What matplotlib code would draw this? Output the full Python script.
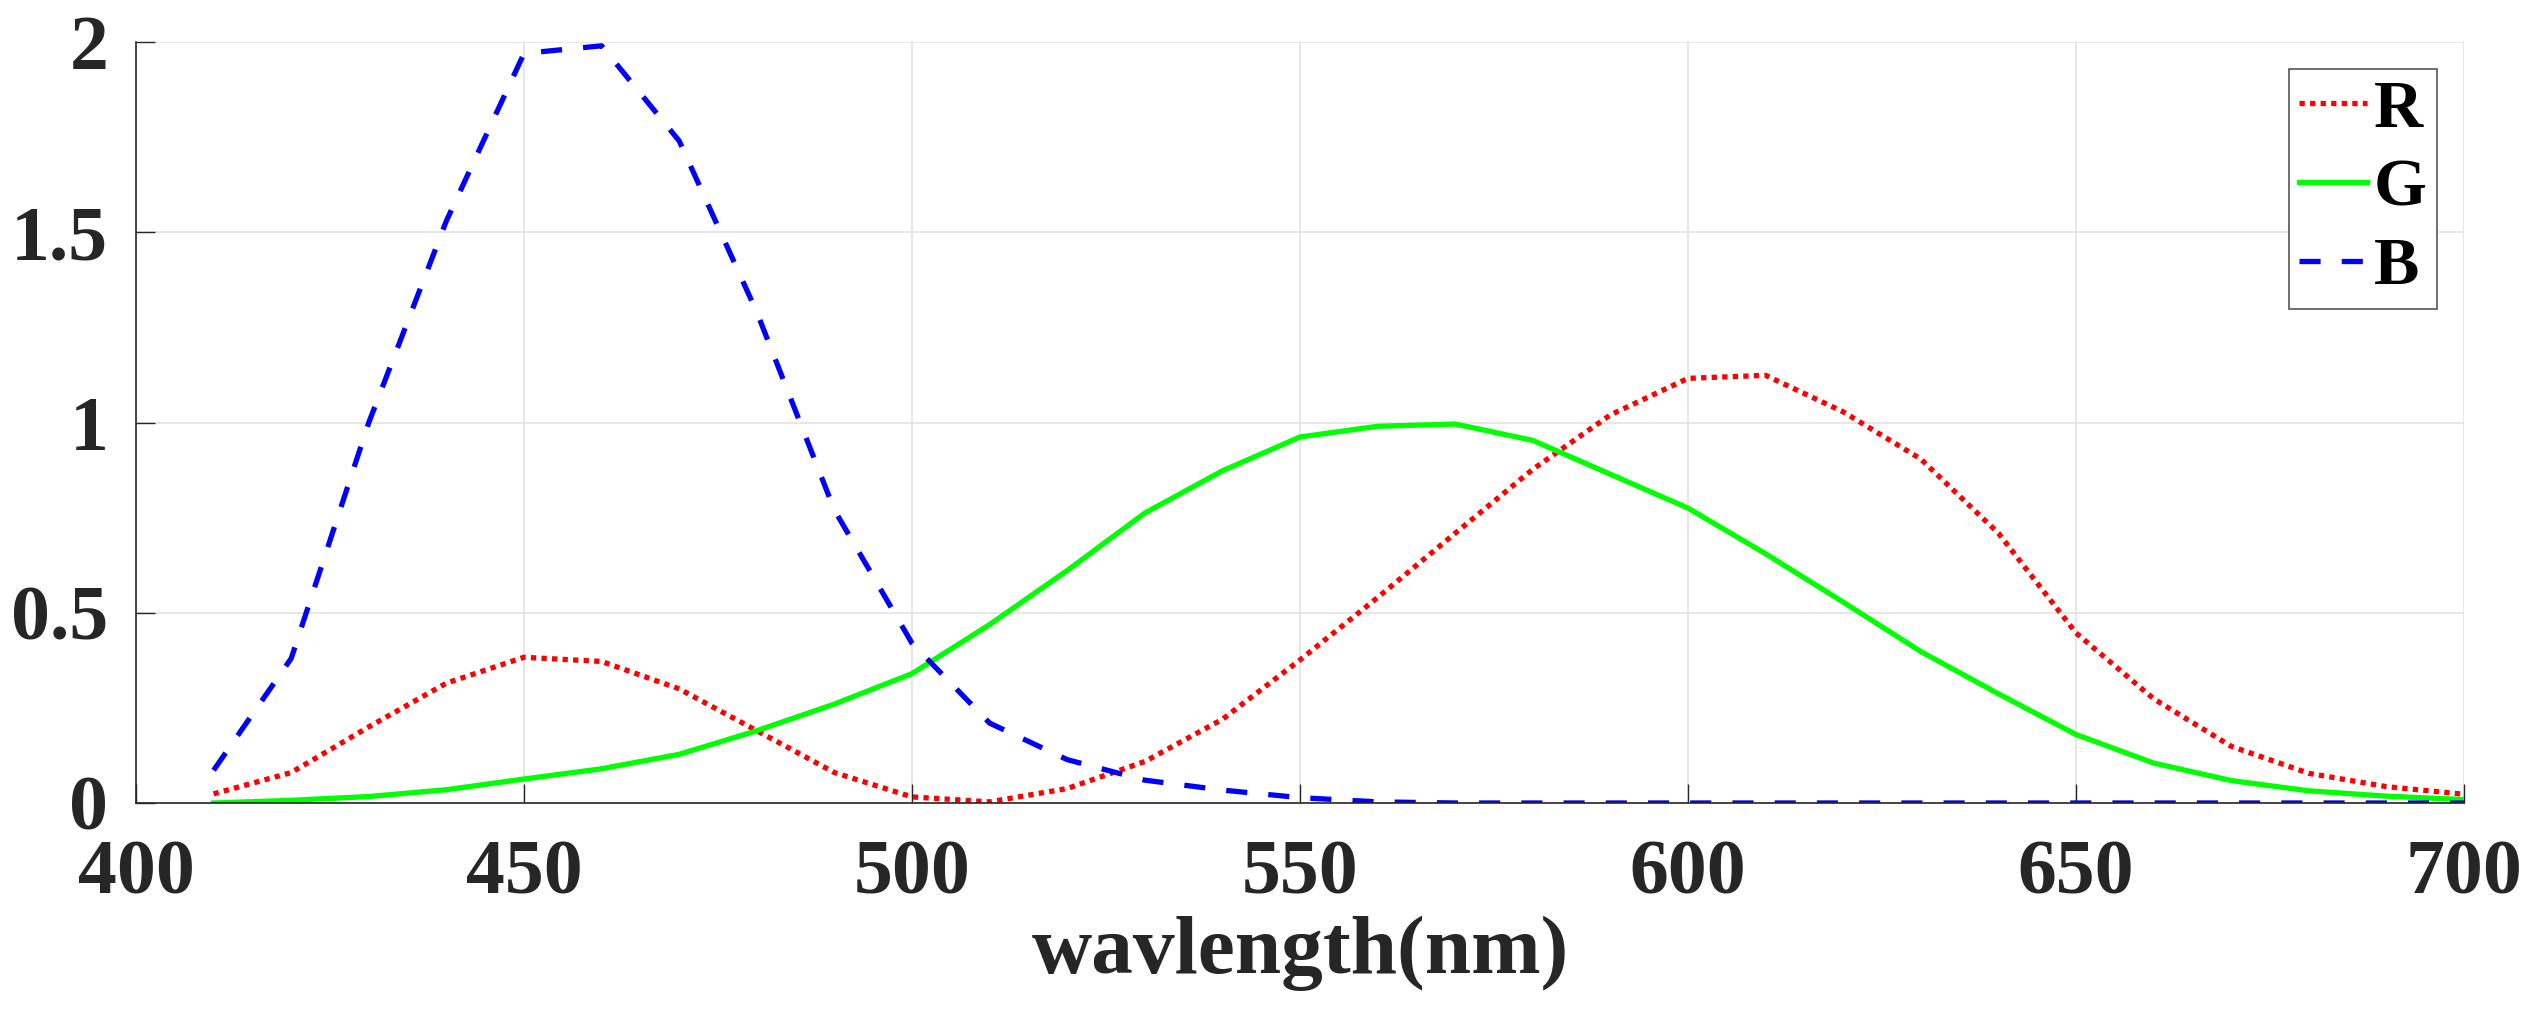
import matplotlib
matplotlib.use("Agg")
import matplotlib.pyplot as plt
import numpy as np

# spectral sensitivity, sampled every 10 nm
wavelength = list(range(410, 701, 10))
r_vals = [0.024, 0.08, 0.2, 0.315, 0.383, 0.372, 0.30, 0.19, 0.08, 0.016,
          0.003, 0.038, 0.109, 0.22, 0.376, 0.54, 0.709, 0.877, 1.02, 1.116,
          1.124, 1.028, 0.904, 0.709, 0.447, 0.274, 0.149, 0.078, 0.043, 0.023]
g_vals = [0.0, 0.007, 0.017, 0.035, 0.063, 0.09, 0.128, 0.19, 0.26, 0.34,
          0.469, 0.611, 0.762, 0.873, 0.962, 0.99, 0.996, 0.953, 0.864, 0.775,
          0.655, 0.528, 0.398, 0.287, 0.18, 0.105, 0.059, 0.032, 0.018, 0.009]
b_vals = [0.086, 0.38, 1.0, 1.53, 1.97, 1.99, 1.74, 1.29, 0.77, 0.42,
          0.21, 0.114, 0.06, 0.034, 0.014, 0.003, 0.0, 0.0, 0.0, 0.0,
          0.0, 0.0, 0.0, 0.0, 0.0, 0.0, 0.0, 0.0, 0.0, 0.0]
labels = ["R", "G", "B"]
xticks = [400, 450, 500, 550, 600, 650, 700]
yticks = [0, 0.5, 1, 1.5, 2]

plt.rcParams['font.family'] = ['Liberation Serif', 'DejaVu Serif']
plt.rcParams['font.weight'] = 'bold'

fig = plt.figure(figsize=(25.42, 10.26), dpi=100)
ax = fig.add_axes([136/2542, 1-803/1026, 2328/2542, 761/1026])

lw = 3.8
ax.plot(wavelength, r_vals, color='#ff0000', lw=lw, linestyle=(0, (1, 1)), label=labels[0])
ax.plot(wavelength, g_vals, color='#00ff00', lw=lw, linestyle='-', label=labels[1])
ax.plot(wavelength, b_vals, color='#0000ff', lw=lw, linestyle=(0, (4, 4)), label=labels[2])

ax.set_xlim(400, 700)
ax.set_ylim(0, 2)
ax.set_xticks(xticks)
ax.set_yticks(yticks)
ax.set_yticklabels(["0", "0.5", "1", "1.5", "2"])
ax.grid(True, color='#e3e3e3', lw=1.2)
ax.set_axisbelow(True)

for s in ['top', 'right']:
    ax.spines[s].set_visible(False)
for s in ['left', 'bottom']:
    ax.spines[s].set_color('#262626')
    ax.spines[s].set_linewidth(1.2)

ax.tick_params(direction='in', length=14, width=1.0, color='#262626',
               labelsize=56, labelcolor='#262626')
ax.tick_params(axis='x', pad=26)
ax.tick_params(axis='y', pad=20)
ax.set_xlabel("wavlength(nm)", fontsize=60, fontweight='bold', color='#262626', labelpad=4)

leg = ax.legend(loc='upper right', fontsize=49, handlelength=1.0, handletextpad=0.1,
                labelspacing=0.25, borderpad=0.15, borderaxespad=0.4,
                fancybox=False, framealpha=1, edgecolor='#555555')
leg.get_frame().set_linewidth(1.2)

fig.savefig("out.png", dpi=100, facecolor='white')
